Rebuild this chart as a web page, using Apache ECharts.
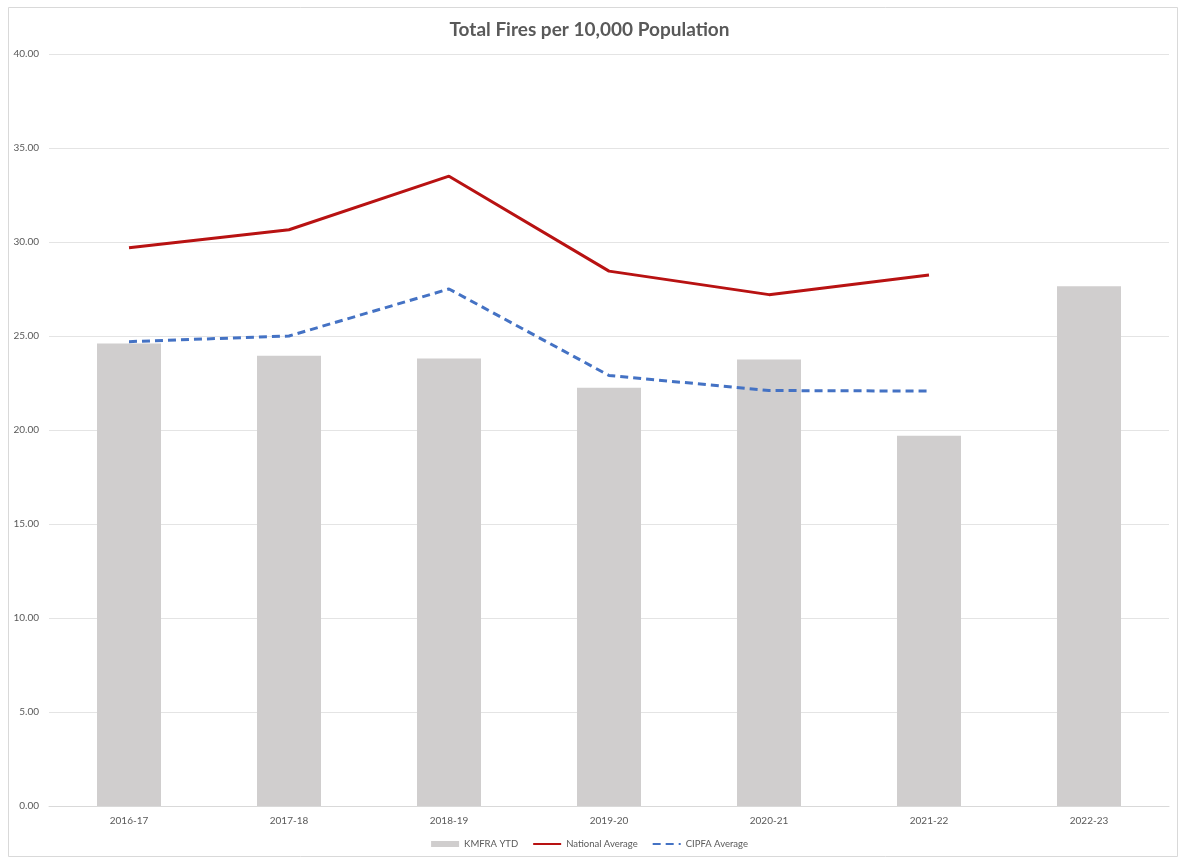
<!DOCTYPE html>
<html>
<head>
<meta charset="utf-8">
<script src="https://cdn.jsdelivr.net/npm/echarts@6/dist/echarts.min.js"></script>
<style>
  html, body { margin: 0; padding: 0; background: #ffffff; }
  #chart { width: 1179px; height: 857px; }
</style>
</head>
<body>
<div id="chart"></div>
<script>
// Financial years on the category axis
const years = ['2016-17', '2017-18', '2018-19', '2019-20', '2020-21', '2021-22', '2022-23'];
// Fires per 10,000 population
const kmfraYtd = [24.6, 23.95, 23.8, 22.25, 23.75, 19.7, 27.65];
const nationalAverage = [29.7, 30.65, 33.5, 28.45, 27.2, 28.25, null];
const cipfaAverage = [24.7, 25.0, 27.5, 22.9, 22.1, 22.07, null];

const textColor = '#595959';
const font = 'Lato, "Open Sans", sans-serif';

const chart = echarts.init(document.getElementById('chart'));
chart.setOption({
  animation: false,
  backgroundColor: '#ffffff',
  textStyle: { fontFamily: font },
  title: {
    text: 'Total Fires per 10,000 Population',
    left: 'center',
    top: 15,
    textStyle: { fontFamily: font, fontSize: 19, fontWeight: 'bold', color: textColor }
  },
  graphic: [{
    type: 'rect',
    shape: { x: 8.5, y: 7.5, width: 1169, height: 849 },
    style: { fill: 'none', stroke: '#d9d9d9', lineWidth: 1 },
    silent: true
  }],
  legend: {
    bottom: 3,
    left: 'center',
    itemWidth: 28,
    itemHeight: 6,
    itemGap: 14,
    textStyle: { fontFamily: font, fontSize: 9.5, color: textColor },
    data: [
      { name: 'KMFRA YTD', icon: 'rect' },
      { name: 'National Average', itemStyle: { opacity: 0 } },
      { name: 'CIPFA Average', itemStyle: { opacity: 0 } }
    ]
  },
  grid: { left: 49, right: 10, top: 54, bottom: 51, containLabel: false },
  xAxis: {
    type: 'category',
    data: years,
    axisLine: { lineStyle: { color: '#d9d9d9' } },
    axisTick: { show: false },
    axisLabel: { color: textColor, fontSize: 10, margin: 10, fontFamily: font }
  },
  yAxis: {
    type: 'value',
    min: 0,
    max: 40,
    interval: 5,
    axisLine: { show: false },
    axisTick: { show: false },
    splitLine: { lineStyle: { color: '#e4e4e4' } },
    axisLabel: {
      color: textColor, fontSize: 10, margin: 10, fontFamily: font,
      formatter: v => v.toFixed(2)
    }
  },
  series: [
    {
      name: 'KMFRA YTD',
      type: 'bar',
      data: kmfraYtd,
      barWidth: '40%',
      itemStyle: { color: '#d0cece' }
    },
    {
      name: 'National Average',
      type: 'line',
      data: nationalAverage,
      symbol: 'none',
      connectNulls: false,
      itemStyle: { color: '#c00000' },
      lineStyle: { color: '#b81212', width: 3 }
    },
    {
      name: 'CIPFA Average',
      type: 'line',
      data: cipfaAverage,
      symbol: 'none',
      connectNulls: false,
      itemStyle: { color: '#4472c4' },
      lineStyle: { color: '#4472c4', width: 3, type: [8, 5] }
    }
  ]
});
</script>
</body>
</html>
